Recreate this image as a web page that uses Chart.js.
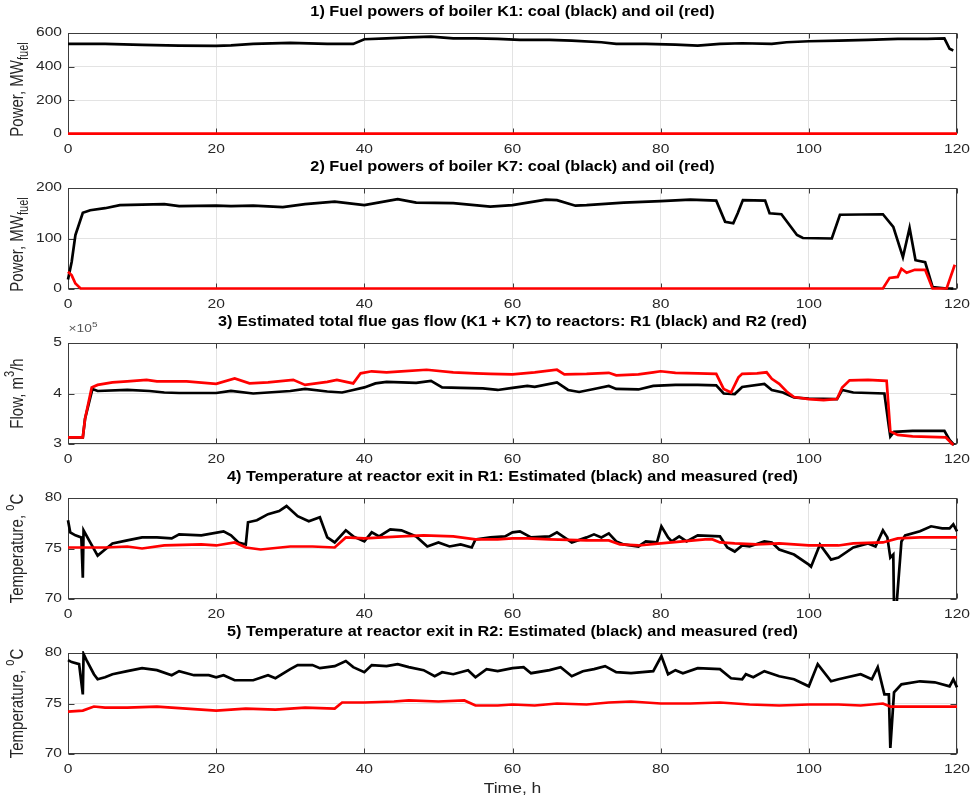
<!DOCTYPE html>
<html>
<head>
<meta charset="utf-8">
<script src="https://cdn.jsdelivr.net/npm/chart.js"></script>
<style>
  html, body { margin: 0; padding: 0; background: #ffffff; }
  #wrap { position: relative; width: 971px; height: 800px; overflow: hidden; background: #fff; }
  canvas { position: absolute; left: 0; }
</style>
</head>
<body>
<div id="wrap">
  <canvas id="c1" width="971" height="170" style="top:0px"></canvas>
  <canvas id="c2" width="971" height="170" style="top:155px"></canvas>
  <canvas id="c3" width="971" height="170" style="top:310px"></canvas>
  <canvas id="c4" width="971" height="170" style="top:465px"></canvas>
  <canvas id="c5" width="971" height="180" style="top:620px"></canvas>
</div>
<script>
// ---------- DATA (time in h, value) ----------
const xTicks = [0, 20, 40, 60, 80, 100, 120];

// 1) Boiler K1 fuel power, MW
const k1Coal = [[0,535],[5,535],[10,529],[15,525],[20,524],[22,527],[25,535],[30,541],[35,535],[38.5,535],[40,563],[43,568],[46,574],[49,578],[52,568],[55,568],[58,565],[61,559],[65,559],[68,555],[72,545],[74,535],[78,535],[82,531],[85,525],[88,535],[91,539],[95,535],[97,545],[100,551],[104,555],[108,559],[112,565],[116,565],[118.3,568],[119,506],[119.5,496]];
const k1Oil = [[0,2],[120,2]];

// 2) Boiler K7 fuel power, MW
const k7Coal = [[0,19],[0.5,54],[1,107],[2,151],[3,156],[5,160],[7,166],[10,167],[13,168],[15,164],[20,165],[22,164],[25,165],[29,162],[32,168],[36,173],[40,166],[44.5,178],[47,171],[52,170],[57,163],[60,166],[64.5,177],[66,176],[68.5,165],[70,166],[75,171],[80,174],[84,177],[87.5,175],[88.7,133],[89.8,130],[90.4,150],[91.1,176],[94.1,175],[94.7,150],[96.3,148],[98.4,107],[99.2,101],[103.1,100],[104.2,147],[110,148],[111.4,123],[112.7,63],[113.6,121],[114.4,57],[115.7,53],[116.7,4],[118.6,1],[119.5,1]];
const k7Oil = [[0,34],[0.5,27],[1,11],[1.7,1],[110,1],[110.9,22],[112,24],[112.5,40],[113.2,32],[114.3,38],[115.7,38],[116.7,1],[118.6,1],[119.7,48]];

// 3) Total flue gas flow, x10^5 m3/h
const flowR1 = [[0,3.13],[2,3.13],[2.3,3.5],[3.3,4.09],[4,4.05],[8,4.07],[11,4.05],[13,4.02],[15,4.01],[20,4.01],[22,4.05],[25,4.00],[28,4.03],[30,4.05],[32,4.09],[35,4.04],[37,4.02],[38.5,4.07],[40,4.12],[41.5,4.20],[43,4.23],[45,4.22],[47,4.21],[49,4.25],[50.5,4.12],[53,4.11],[56,4.10],[58,4.07],[60,4.11],[62,4.15],[63,4.13],[66,4.22],[67.5,4.07],[69,4.03],[71,4.09],[73,4.15],[74,4.09],[77,4.08],[79,4.15],[82,4.17],[85,4.17],[87.5,4.16],[88.5,4.00],[90,3.99],[91,4.13],[94,4.19],[95,4.07],[96.5,4.02],[98,3.92],[100,3.90],[103.8,3.89],[104.5,4.07],[106,4.02],[110.2,4.00],[110.8,3.35],[111,3.15],[111.5,3.24],[114,3.26],[118.3,3.26],[119,3.08],[119.6,2.98]];
const flowR2 = [[0,3.13],[2,3.13],[2.3,3.5],[3.2,4.12],[4,4.17],[6,4.22],[8,4.24],[10.6,4.27],[12,4.24],[16,4.24],[20,4.19],[22.5,4.30],[24.5,4.20],[27,4.22],[30.4,4.27],[32,4.17],[35,4.23],[36.3,4.27],[38.5,4.20],[39.5,4.40],[41,4.44],[43,4.42],[45,4.44],[48.4,4.47],[52,4.42],[55,4.40],[57,4.39],[60,4.38],[63,4.42],[66,4.47],[67,4.38],[70,4.39],[73,4.41],[74,4.36],[77,4.38],[79,4.42],[80,4.44],[82,4.41],[85,4.40],[87.5,4.39],[88.5,4.09],[89.5,4.02],[90.5,4.32],[91,4.39],[93,4.40],[94.3,4.42],[95,4.29],[96,4.19],[97,4.04],[98,3.93],[100,3.89],[102,3.87],[103.8,3.89],[104.5,4.12],[105.5,4.26],[108,4.27],[110.5,4.25],[111,3.25],[112,3.18],[114,3.15],[118.5,3.13],[119.5,2.98]];

// 4) Reactor R1 exit temperature, degC
const tempR1Est = [[0,77.8],[0.3,76.6],[1,76.3],[1.8,76.1],[2,72.1],[2.1,76.8],[3,75.6],[4,74.3],[5,74.9],[6,75.5],[8,75.8],[10,76.1],[12,76.1],[14,76.0],[15,76.4],[18,76.3],[21,76.7],[22,76.3],[23,75.6],[24,75.4],[24.3,77.6],[25.5,77.8],[27,78.4],[28.5,78.7],[29.5,79.2],[31,78.2],[32.5,77.7],[34,78.1],[35,76.1],[36,75.6],[37.5,76.8],[38.5,76.2],[40,75.7],[41,76.6],[42,76.2],[43.5,76.9],[45,76.8],[47,76.2],[48.5,75.2],[50,75.6],[51.5,75.2],[53,75.4],[54.5,75.1],[55,75.9],[57,76.1],[59,76.2],[60,76.6],[61,76.7],[62.5,76.1],[65,76.2],[66,76.6],[67,76.1],[68,75.6],[70,76.1],[71,76.4],[72,76.1],[73,76.5],[74,75.7],[75,75.4],[77,75.2],[78,75.7],[79.5,75.6],[80.1,77.2],[81,76.1],[81.5,75.7],[82.5,76.2],[83.5,75.7],[85,76.3],[88,76.2],[89,75.1],[90,74.7],[91,75.3],[92,75.2],[94,75.7],[95,75.6],[96,74.9],[98,74.4],[100,73.4],[100.3,73.2],[101.5,75.4],[103,73.9],[104,74.1],[106,75.1],[108,75.5],[109,75.2],[110,76.8],[110.6,76.1],[111,74.1],[111.4,74.4],[111.5,69],[111.8,69],[112.5,75.7],[113,76.3],[115,76.7],[116.5,77.2],[118,77.0],[119,77.0],[119.5,77.4],[120,76.7]];
const tempR1Meas = [[0,75.1],[5,75.1],[8,75.2],[10,75.0],[13,75.3],[18,75.4],[20,75.3],[22.5,75.6],[24,75.1],[26,74.9],[30,75.2],[33,75.2],[36,75.1],[37.5,76.1],[40,76.0],[45,76.2],[48,76.3],[52,76.2],[55,75.9],[58,75.9],[60,76.0],[62,76.0],[65,75.9],[70,75.8],[73,75.8],[74.5,75.4],[77,75.3],[80,75.5],[83,75.7],[86,75.9],[87,75.9],[88,75.6],[90,75.5],[93,75.4],[96,75.5],[100,75.3],[104,75.3],[106,75.5],[110,75.6],[112,76.0],[115,76.1],[120,76.1]];

// 5) Reactor R2 exit temperature, degC
const tempR2Est = [[0,79.3],[0.5,79.1],[1.5,78.9],[2,75.9],[2.1,79.9],[2.5,79.3],[3.5,77.9],[4,77.4],[5,77.6],[6,77.9],[8,78.2],[10,78.5],[12,78.3],[14,77.8],[15,78.2],[17,77.8],[19,77.8],[20,77.6],[21,77.8],[22.5,77.3],[25,77.3],[27,77.8],[28,77.5],[30,78.4],[31,78.8],[33,78.8],[34,78.5],[36,78.7],[37.5,79.2],[38.5,78.6],[40,78.1],[41,78.8],[43,78.7],[44.5,78.9],[46,78.6],[48,78.3],[49.5,77.7],[50.5,78.1],[52,77.9],[54,78.3],[55,77.6],[56.5,78.4],[58,78.2],[60,78.5],[61.5,78.6],[62.5,78.0],[65,78.3],[66.5,78.6],[68,77.7],[69.5,78.2],[71,78.4],[72.5,78.7],[74,78.1],[76,78.0],[79,78.2],[80.1,79.7],[81,77.9],[82,78.3],[83,78.0],[85,78.5],[88,78.4],[89.5,77.5],[91,77.4],[91.5,77.9],[92.5,77.6],[94,78.2],[96,77.7],[98,77.4],[100,76.7],[101.2,78.9],[103,77.2],[104,77.4],[107,77.9],[108.5,77.4],[109.3,78.6],[110.2,75.9],[110.8,75.9],[111,70.6],[111.5,76.1],[112.5,76.9],[115,77.2],[117,77.1],[119,76.7],[119.5,77.4],[120,76.6]];
const tempR2Meas = [[0,74.2],[2,74.3],[3.5,74.7],[5,74.6],[8,74.6],[12,74.7],[16,74.5],[20,74.3],[24,74.5],[28,74.4],[32,74.6],[36,74.5],[37,75.1],[40,75.1],[44,75.2],[46,75.3],[50,75.2],[53.5,75.3],[55,74.8],[58,74.8],[60,74.9],[63,74.8],[66,75.0],[70,74.9],[73,75.1],[76,75.2],[80,75.0],[84,75.0],[88,75.1],[92,74.9],[96,74.8],[100,74.9],[104,74.9],[107,74.8],[110,75.0],[111,74.7],[115,74.7],[120,74.7]];

// ---------- STYLE ----------
const FONT = '"Liberation Sans", Arial, Helvetica, sans-serif';
const AXIS_COLOR = '#262626';
const GRID_COLOR = '#e3e3e3';
const LINE_W = 2.7;
const TICK_SIZE = 12, TICK_STRETCH = 1.3;

function toXY(pairs) { return pairs.map(p => ({ x: p[0], y: p[1] })); }

// draw text made of parts (normal / sub / sup); stretch = widening factor
// along the picture's horizontal direction
function drawParts(ctx, parts, size, vertical, cx, cy, stretch, weight) {
  const w8 = weight ? weight + ' ' : '';
  const fontOf = p => w8 + (p.sub || p.sup ? Math.round(size * 0.72) : size) + 'px ' + FONT;
  let total = 0;
  const widths = parts.map(p => {
    ctx.font = fontOf(p);
    const w = ctx.measureText(p.t).width;
    total += w;
    return w;
  });
  ctx.save();
  ctx.translate(cx, cy);
  if (vertical) { ctx.rotate(-Math.PI / 2); ctx.scale(1, stretch); }
  else ctx.scale(stretch, 1);
  let x = -total / 2;
  ctx.textBaseline = 'middle';
  ctx.textAlign = 'left';
  parts.forEach((p, i) => {
    ctx.font = fontOf(p);
    const dy = p.sub ? size * 0.35 : (p.sup ? -size * 0.4 : 0);
    ctx.fillText(p.t, x, dy);
    x += widths[i];
  });
  ctx.restore();
}

function drawTickText(ctx, txt, x, y, align) {
  ctx.save();
  ctx.translate(x, y);
  ctx.scale(TICK_STRETCH, 1);
  ctx.font = TICK_SIZE + 'px ' + FONT;
  ctx.textAlign = align;
  ctx.textBaseline = 'middle';
  ctx.fillText(txt, 0, 0);
  ctx.restore();
}

const framePlugin = {
  id: 'frame',
  beforeDatasetsDraw(chart) {
    const { ctx, chartArea: a, scales } = chart;
    ctx.save();
    ctx.strokeStyle = '#3c3c3c';
    ctx.lineWidth = 1;
    const L = Math.round(a.left) + 0.5, R = Math.round(a.right) - 0.5;
    const T = Math.round(a.top) + 0.5, B = Math.round(a.bottom) - 0.5;
    ctx.strokeRect(L, T, R - L, B - T);
    ctx.beginPath();
    scales.x.ticks.forEach(t => {
      const px = Math.round(scales.x.getPixelForValue(t.value)) + 0.5;
      ctx.moveTo(px, B); ctx.lineTo(px, B - 5);
      ctx.moveTo(px, T); ctx.lineTo(px, T + 5);
    });
    scales.y.ticks.forEach(t => {
      const py = Math.round(scales.y.getPixelForValue(t.value)) + 0.5;
      ctx.moveTo(L, py); ctx.lineTo(L + 6, py);
      ctx.moveTo(R, py); ctx.lineTo(R - 6, py);
    });
    ctx.stroke();
    ctx.restore();
  },
  afterDraw(chart, args, opts) {
    const { ctx, chartArea: a, scales } = chart;
    const cx = (a.left + a.right) / 2;
    ctx.save();
    // tick labels
    ctx.fillStyle = AXIS_COLOR;
    scales.x.ticks.forEach(t => {
      drawTickText(ctx, String(t.value), scales.x.getPixelForValue(t.value), a.bottom + 16, 'center');
    });
    scales.y.ticks.forEach(t => {
      drawTickText(ctx, String(t.value), a.left - 6, scales.y.getPixelForValue(t.value), 'right');
    });
    // title
    ctx.fillStyle = '#000';
    drawParts(ctx, [{ t: opts.title }], 14, false, cx, a.top - 21, 1.16, 'bold');
    // axis labels
    ctx.fillStyle = AXIS_COLOR;
    drawParts(ctx, opts.ylabel, 15, true, 18, (a.top + a.bottom) / 2 + (opts.ylabelShift || 0), 1.25);
    if (opts.xlabel) {
      drawParts(ctx, [{ t: opts.xlabel }], 14, false, cx, a.bottom + 35, 1.25);
    }
    if (opts.exponent) {
      ctx.fillStyle = '#555';
      drawParts(ctx, opts.exponent, 11, false, a.left + 15, a.top - 14, 1.25);
    }
    ctx.restore();
  }
};

function makePanel(id, canvasH, cfg) {
  const datasets = cfg.series.map(s => ({
    data: toXY(s.data),
    borderColor: s.color,
    borderWidth: LINE_W,
    pointRadius: 0,
    fill: false,
    tension: 0,
    clip: 2
  }));
  return new Chart(document.getElementById(id), {
    type: 'line',
    data: { datasets },
    options: {
      responsive: false,
      animation: false,
      maintainAspectRatio: false,
      layout: { padding: { top: 33, left: 0, right: 14, bottom: 0 } },
      plugins: {
        legend: { display: false },
        tooltip: { enabled: false },
        title: { display: false },
        frame: cfg.frame
      },
      scales: {
        x: {
          type: 'linear', min: 0, max: 120,
          afterBuildTicks: s => { s.ticks = xTicks.map(v => ({ value: v })); },
          ticks: { padding: 9, color: 'rgba(0,0,0,0)', font: { family: FONT, size: 12 }, maxRotation: 0, callback: v => String(v) },
          grid: { color: GRID_COLOR, drawTicks: false, lineWidth: 1 },
          border: { display: false },
          afterFit: s => { s.height = canvasH - 134; s.paddingLeft = 0; s.paddingRight = 0; }
        },
        y: {
          type: 'linear', min: cfg.yMin, max: cfg.yMax,
          afterBuildTicks: s => { s.ticks = cfg.yTicks.map(v => ({ value: v })); },
          ticks: { padding: 7, color: 'rgba(0,0,0,0)', font: { family: FONT, size: 12 }, callback: v => String(v) },
          grid: { color: GRID_COLOR, drawTicks: false, lineWidth: 1 },
          border: { display: false },
          afterFit: s => { s.width = 68; s.paddingTop = 0; s.paddingBottom = 0; }
        }
      }
    },
    plugins: [framePlugin]
  });
}

makePanel('c1', 170, {
  yMin: 0, yMax: 600, yTicks: [0, 200, 400, 600],
  series: [{ data: k1Oil, color: '#ff0000' }, { data: k1Coal, color: '#000000' }],
  frame: { title: '1) Fuel powers of boiler K1: coal (black) and oil (red)',
           ylabel: [{ t: 'Power, MW' }, { t: 'fuel', sub: true }], ylabelShift: 6 }
});
makePanel('c2', 170, {
  yMin: 0, yMax: 200, yTicks: [0, 100, 200],
  series: [{ data: k7Oil, color: '#ff0000' }, { data: k7Coal, color: '#000000' }],
  frame: { title: '2) Fuel powers of boiler K7: coal (black) and oil (red)',
           ylabel: [{ t: 'Power, MW' }, { t: 'fuel', sub: true }], ylabelShift: 6 }
});
makePanel('c3', 170, {
  yMin: 3, yMax: 5, yTicks: [3, 4, 5],
  series: [{ data: flowR2, color: '#ff0000' }, { data: flowR1, color: '#000000' }],
  frame: { title: '3) Estimated total flue gas flow (K1 + K7) to reactors: R1 (black) and R2 (red)',
           ylabel: [{ t: 'Flow, m' }, { t: '3', sup: true }, { t: '/h' }],
           exponent: [{ t: '\u00d710' }, { t: '5', sup: true }] }
});
makePanel('c4', 170, {
  yMin: 70, yMax: 80, yTicks: [70, 75, 80],
  series: [{ data: tempR1Meas, color: '#ff0000' }, { data: tempR1Est, color: '#000000' }],
  frame: { title: '4) Temperature at reactor exit in R1: Estimated (black) and measured (red)',
           ylabel: [{ t: 'Temperature, ' }, { t: 'o', sup: true }, { t: 'C' }] }
});
makePanel('c5', 180, {
  yMin: 70, yMax: 80, yTicks: [70, 75, 80],
  series: [{ data: tempR2Meas, color: '#ff0000' }, { data: tempR2Est, color: '#000000' }],
  frame: { title: '5) Temperature at reactor exit in R2: Estimated (black) and measured (red)',
           ylabel: [{ t: 'Temperature, ' }, { t: 'o', sup: true }, { t: 'C' }],
           xlabel: 'Time, h' }
});
</script>
</body>
</html>
